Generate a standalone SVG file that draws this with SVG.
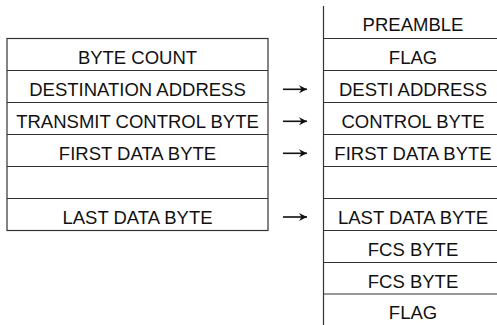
<svg xmlns="http://www.w3.org/2000/svg" width="497" height="325" viewBox="0 0 497 325">
<defs>
<marker id="ah" markerUnits="userSpaceOnUse" markerWidth="10" markerHeight="10" refX="8" refY="5" orient="auto">
<path d="M0 1L8 5L0 9L2.5 5Z" fill="#111"/>
</marker>
</defs>
<style>
.ln{stroke:#333;stroke-width:1.2;fill:none}
.t{font-family:"Liberation Sans",Arial,sans-serif;font-size:18.5px;fill:#111;text-anchor:middle}
.ar{stroke:#111;stroke-width:1.6;fill:none}
</style>
<rect width="497" height="325" fill="#fff"/>
<g id="left-table">
<rect class="ln" x="7" y="38.5" width="261" height="192"/>
<path class="ln" d="M7 70.5H268M7 102.5H268M7 134.5H268M7 166.5H268M7 198.5H268"/>
<g id="l-bytecount"><text class="t" x="137.5" y="63.5">BYTE COUNT</text></g>
<g id="l-dest"><text class="t" x="137.5" y="95.5">DESTINATION ADDRESS</text></g>
<g id="l-ctrl"><text class="t" x="137.5" y="127.5">TRANSMIT CONTROL BYTE</text></g>
<g id="l-first"><text class="t" x="137.5" y="159.5">FIRST DATA BYTE</text></g>
<g id="l-blank"></g>
<g id="l-last"><text class="t" x="137.5" y="223.5">LAST DATA BYTE</text></g>
</g>
<g id="right-table">
<path class="ln" d="M323.5 6V325M323 38.5H497M323 70.5H497M323 102.5H497M323 134.5H497M323 166.5H497M323 198.5H497M323 230.5H497M323 262.5H497M323 294H497"/>
<g id="r-preamble"><text class="t" x="413" y="31">PREAMBLE</text></g>
<g id="r-flag1"><text class="t" x="413" y="63.5">FLAG</text></g>
<g id="r-dest"><text class="t" x="413" y="95.5">DESTI ADDRESS</text></g>
<g id="r-ctrl"><text class="t" x="413" y="127.5">CONTROL BYTE</text></g>
<g id="r-first"><text class="t" x="413" y="159.5">FIRST DATA BYTE</text></g>
<g id="r-blank"></g>
<g id="r-last"><text class="t" x="413" y="223.5">LAST DATA BYTE</text></g>
<g id="r-fcs1"><text class="t" x="413" y="255.5">FCS BYTE</text></g>
<g id="r-fcs2"><text class="t" x="413" y="287.5">FCS BYTE</text></g>
<g id="r-flag2"><text class="t" x="413" y="319">FLAG</text></g>
</g>
<g id="connectors">
<path class="ar" d="M283 89.3H307" marker-end="url(#ah)"/>
<path class="ar" d="M283 121.3H307" marker-end="url(#ah)"/>
<path class="ar" d="M283 153.3H307" marker-end="url(#ah)"/>
<path class="ar" d="M283 217H307" marker-end="url(#ah)"/>
</g>
</svg>
